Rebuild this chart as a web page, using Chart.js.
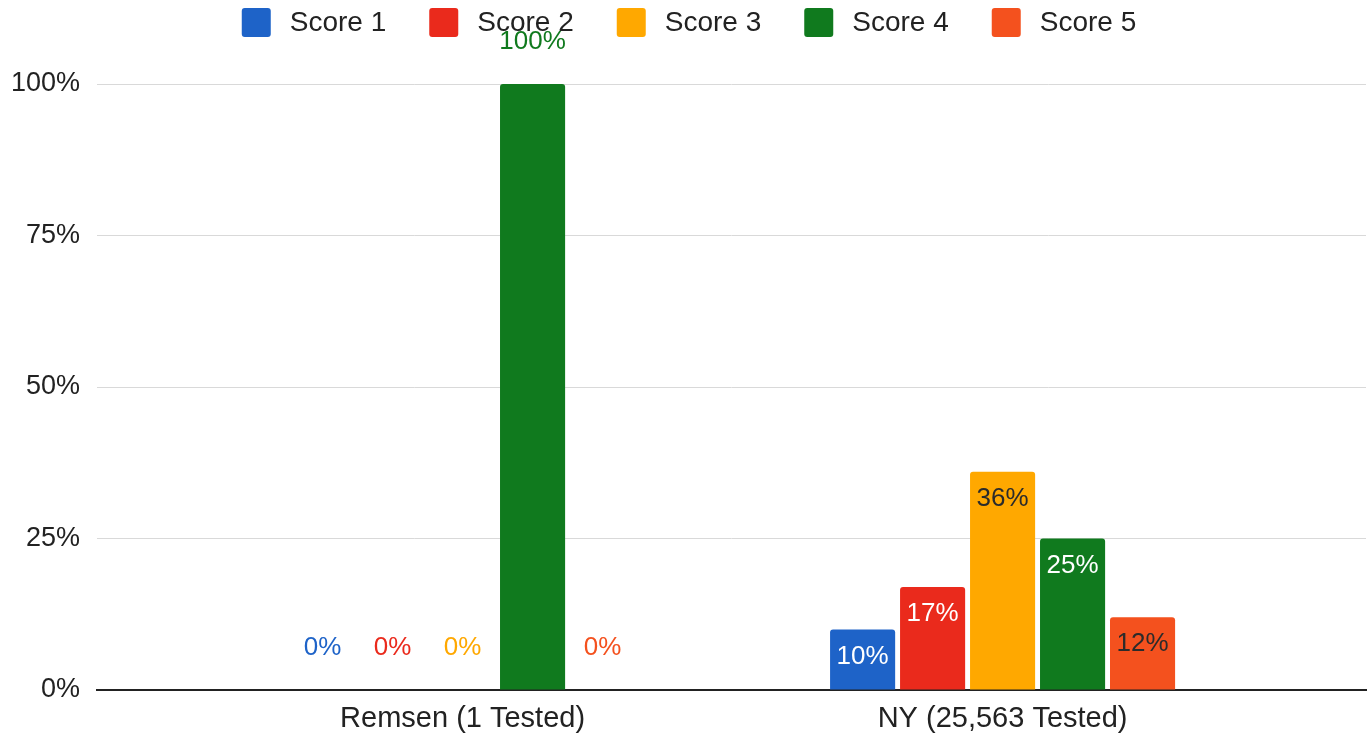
<!DOCTYPE html>
<html>
<head>
<meta charset="utf-8">
<script src="https://cdn.jsdelivr.net/npm/chart.js@4.4.1/dist/chart.umd.min.js"></script>
<style>
  html, body { margin: 0; padding: 0; background: #ffffff; }
  #wrap { width: 1372px; height: 736px; position: relative; }
</style>
</head>
<body>
<div id="wrap"><canvas id="c"></canvas></div>
<script>
// ---- data ----
const categories = ['Remsen (1 Tested)', 'NY (25,563 Tested)'];
const seriesNames = ['Score 1', 'Score 2', 'Score 3', 'Score 4', 'Score 5'];
const score1 = [0, 10];
const score2 = [0, 17];
const score3 = [0, 36];
const score4 = [100, 25];
const score5 = [0, 12];
const yTicks = [0, 25, 50, 75, 100];

// ---- styles ----
const seriesColors = ['#1e63c8', '#ea2a1c', '#ffa800', '#107a1e', '#f4511e'];
const insideInk = ['#ffffff', '#ffffff', '#2b2b2b', '#ffffff', '#2b2b2b'];
const FONT = '"Liberation Sans", Arial, sans-serif';
const TEXT = '#222222';

const allSeries = [score1, score2, score3, score4, score5];
const datasets = allSeries.map((vals, si) => ({
  label: seriesNames[si],
  data: categories.map((c, ci) => ({ x: ci, y: vals[ci] })),
  backgroundColor: seriesColors[si],
  borderWidth: 0,
  borderRadius: 3,
  categoryPercentage: 0.648,
  barPercentage: 0.93
}));

const legendPlugin = {
  id: 'customLegend',
  afterDraw(chart) {
    const ctx = chart.ctx;
    ctx.save();
    ctx.font = '28px ' + FONT;
    ctx.textBaseline = 'middle';
    ctx.textAlign = 'left';
    const box = 29, gapIn = 19, gapOut = 43;
    const widths = chart.data.datasets.map(d => box + gapIn + ctx.measureText(d.label).width);
    const total = widths.reduce((a, b) => a + b, 0) + gapOut * (widths.length - 1);
    let x = chart.width / 2 - total / 2 + 3;
    const top = 8;
    chart.data.datasets.forEach((d, i) => {
      ctx.fillStyle = d.backgroundColor;
      ctx.beginPath();
      ctx.roundRect(x, top, box, box, 3);
      ctx.fill();
      ctx.fillStyle = TEXT;
      ctx.fillText(d.label, x + box + gapIn, top + box / 2 + 1);
      x += widths[i] + gapOut;
    });
    ctx.restore();
  }
};

const labelPlugin = {
  id: 'barLabels',
  afterDatasetsDraw(chart) {
    const ctx = chart.ctx;
    ctx.save();
    ctx.font = '26px ' + FONT;
    ctx.textAlign = 'center';
    ctx.textBaseline = 'middle';
    chart.data.datasets.forEach((ds, di) => {
      const meta = chart.getDatasetMeta(di);
      meta.data.forEach((bar, i) => {
        const v = ds.data[i].y;
        const outside = v === 0 || v >= 100;
        const y = outside ? bar.y - 42 : bar.y + 27;
        ctx.fillStyle = outside ? seriesColors[di] : insideInk[di];
        ctx.fillText(v + '%', bar.x, y);
      });
    });
    ctx.restore();
  }
};

new Chart(document.getElementById('c'), {
  type: 'bar',
  data: { datasets },
  options: {
    responsive: true,
    maintainAspectRatio: false,
    animation: false,
    layout: { padding: { top: 84, right: 6, bottom: 2, left: 0 } },
    plugins: {
      legend: { display: false },
      tooltip: { enabled: false }
    },
    scales: {
      x: {
        type: 'linear',
        offset: false,
        min: -0.677,
        max: 1.673,
        afterBuildTicks(scale) {
          scale.ticks = categories.map((c, i) => ({ value: i }));
        },
        afterFit(scale) { scale.height = 44; },
        ticks: {
          autoSkip: false,
          maxRotation: 0,
          padding: 12,
          color: TEXT,
          font: { family: FONT, size: 29 },
          callback: (v) => categories[v] !== undefined ? categories[v] : ''
        },
        grid: { display: false, drawTicks: false, offset: false },
        border: { display: true, color: '#222222', width: 2 }
      },
      y: {
        min: 0,
        max: 100,
        afterBuildTicks(scale) {
          scale.ticks = yTicks.map(v => ({ value: v }));
        },
        afterFit(scale) { scale.width = 97; },
        ticks: {
          padding: 17,
          color: TEXT,
          font: { family: FONT, size: 27 },
          callback: (v) => v + '%'
        },
        grid: { color: '#d9d9d9', lineWidth: 1, drawTicks: false },
        border: { display: false }
      }
    }
  },
  plugins: [legendPlugin, labelPlugin]
});
</script>
</body>
</html>
